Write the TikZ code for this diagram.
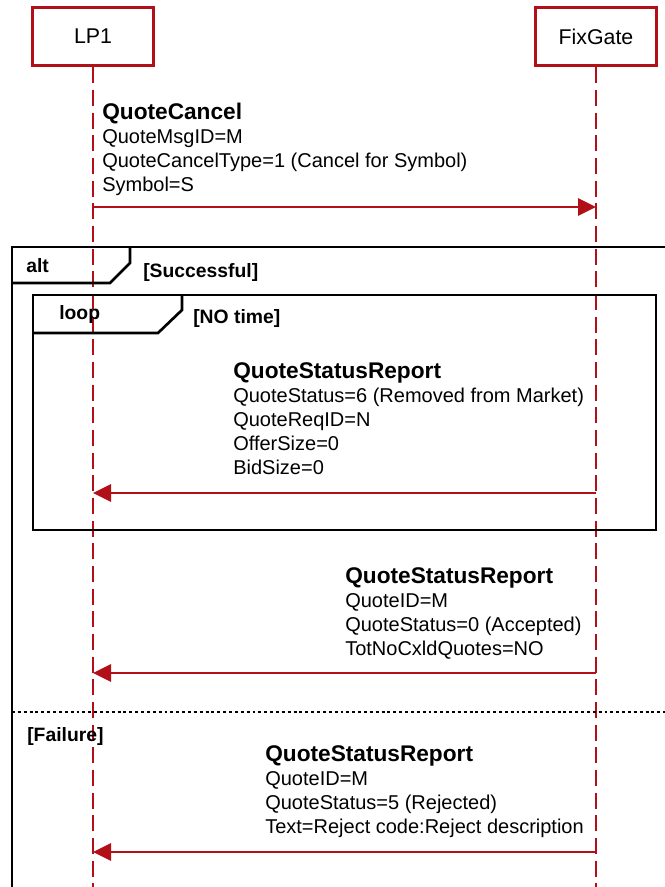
\documentclass[tikz,border=0pt]{standalone}
\usepackage{fontspec}
\setmainfont{Liberation Sans}
\usetikzlibrary{arrows.meta}
\definecolor{lifered}{RGB}{178,16,24}

\begin{document}
\begin{tikzpicture}[x=0.75pt,y=-0.75pt,
  actor/.style={draw=lifered,line width=2.25pt,minimum width=90.5pt,minimum height=44pt,font=\fontsize{16}{19}\selectfont},
  life/.style={lifered,line width=1.5pt,dash pattern=on 12pt off 5pt},
  msg/.style={lifered,line width=1.5pt,-{Triangle[length=13.5pt,width=13pt]}},
  frame/.style={line width=2pt},
  sep/.style={line width=1.1pt,dash pattern=on 2.2pt off 2.2pt},
  guard/.style={font=\bfseries\fontsize{14.5}{17}\selectfont,anchor=base west,inner sep=0pt},
  info/.style={anchor=north west,align=left,inner sep=0pt,font=\fontsize{15}{18}\selectfont}]
\useasboundingbox (0,0) rectangle (664,887);

\node[actor] (lp) at (93,36.5) {LP1};
\node[actor] (fix) at (596,36.5) {FixGate};
\coordinate (lpend) at (93,887);
\coordinate (fixend) at (596,887);
\draw[life] (lp.south) -- (lpend);
\draw[life] (fix.south) -- (fixend);

% alt frame
\draw[frame] (12,891) -- (12,247) -- (668,247);
\draw[frame] (130,247) -- (130,263) -- (110,283) -- (12,283);
\node[guard] (alt) at (26,273) {alt};
\node[guard] (ok) at (143,278) {[Successful]};

% loop frame
\draw[frame] (33,295) rectangle (656,530);
\draw[frame] (182,295) -- (182,310) -- (158,333) -- (33,333);
\node[guard] (loop) at (59,320) {loop};
\node[guard] (notime) at (193,324) {[NO time]};

\draw[sep] (12,712) -- (668,712);
\node[guard] (fail) at (27,741) {[Failure]};

\node[info] (cancel) at (102,102.5) {{\bfseries\fontsize{17}{18}\selectfont QuoteCancel}\\QuoteMsgID=M\\QuoteCancelType=1 (Cancel for Symbol)\\Symbol=S};
\node[info] (report1) at (233,362.5) {{\bfseries\fontsize{17}{18}\selectfont QuoteStatusReport}\\QuoteStatus=6 (Removed from Market)\\QuoteReqID=N\\OfferSize=0\\BidSize=0};
\node[info] (report2) at (345,567.5) {{\bfseries\fontsize{17}{18}\selectfont QuoteStatusReport}\\QuoteID=M\\QuoteStatus=0 (Accepted)\\TotNoCxldQuotes=NO};
\node[info] (report3) at (265,745.5) {{\bfseries\fontsize{17}{18}\selectfont QuoteStatusReport}\\QuoteID=M\\QuoteStatus=5 (Rejected)\\Text=Reject code:Reject description};

\coordinate (m1) at (0,207);
\coordinate (m2) at (0,493);
\coordinate (m3) at (0,673);
\coordinate (m4) at (0,852);
\draw[msg] (lp |- m1) -- (fix |- m1);
\draw[msg] (fix |- m2) -- (lp |- m2);
\draw[msg] (fix |- m3) -- (lp |- m3);
\draw[msg] (fix |- m4) -- (lp |- m4);
\end{tikzpicture}
\end{document}
